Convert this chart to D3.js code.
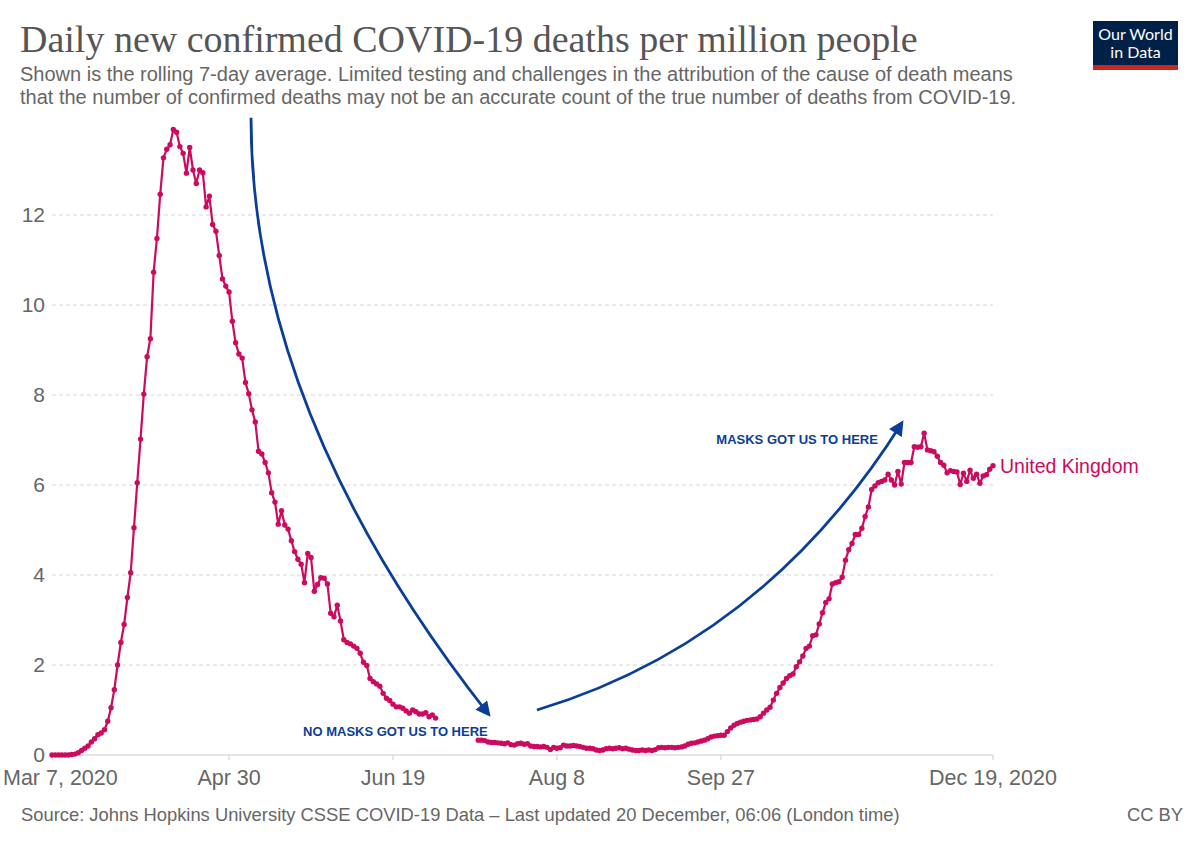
<!doctype html>
<html lang="en">
<head>
<meta charset="UTF-8">
<title>Daily new confirmed COVID-19 deaths per million people</title>
<style>
	body { margin: 0; background: #fff; }
	svg { display: block; font-family: "Liberation Sans", Arial, sans-serif; }
</style>
</head>
<body>
<script src="https://cdn.jsdelivr.net/npm/d3@7"></script>
<script>
	// data (null = hidden behind the annotation)
	var startDate = '2020-03-07',
		endDate = '2020-12-19';

	var ukDeaths = [
		0, 0, 0, 0, 0, 0, 0.01, 0.02, 0.05, 0.1,
		0.15, 0.2, 0.29, 0.36, 0.45, 0.49, 0.56, 0.75, 1.05, 1.45,
		2.0, 2.5, 2.9, 3.5, 4.05, 5.05, 6.05, 7.02, 8.02, 8.85,
		9.25, 10.73, 11.48, 12.46, 13.27, 13.46, 13.56, 13.9, 13.84, 13.52,
		13.37, 12.93, 13.5, 13.0, 12.7, 13.0, 12.94, 12.18, 12.42, 11.79,
		11.64, 11.1, 10.58, 10.42, 10.29, 9.64, 9.16, 8.91, 8.82, 8.28,
		8.03, 7.67, 7.4, 6.75, 6.69, 6.5, 6.27, 5.83, 5.62, 5.13,
		5.43, 5.11, 5.02, 4.76, 4.52, 4.35, 4.24, 3.83, 4.48, 4.39,
		3.64, 3.79, 3.94, 3.93, 3.8, 3.15, 3.07, 3.33, 2.98, 2.56,
		2.5, 2.47, 2.42, 2.37, 2.26, 2.06, 1.99, 1.7, 1.63, 1.58,
		1.53, 1.37, 1.26, 1.21, 1.13, 1.07, 1.07, 1.04, 0.98, 0.93,
		1.0, 0.96, 0.91, 0.91, 0.94, 0.85, 0.89, 0.82, null, null,
		null, null, null, null, null, null, null, null, null, null,
		0.33, 0.33, 0.32, 0.29, 0.28, 0.28, 0.27, 0.26, 0.25, 0.27,
		0.23, 0.22, 0.25, 0.26, 0.24, 0.25, 0.2, 0.19, 0.19, 0.18,
		0.19, 0.17, 0.12, 0.17, 0.15, 0.16, 0.22, 0.2, 0.2, 0.21,
		0.2, 0.19, 0.17, 0.15, 0.15, 0.14, 0.11, 0.1, 0.11, 0.14,
		0.15, 0.14, 0.15, 0.16, 0.14, 0.15, 0.13, 0.11, 0.1, 0.1,
		0.11, 0.1, 0.11, 0.1, 0.12, 0.16, 0.17, 0.16, 0.17, 0.17,
		0.16, 0.17, 0.18, 0.2, 0.24, 0.26, 0.27, 0.29, 0.31, 0.33,
		0.36, 0.4, 0.42, 0.43, 0.44, 0.44, 0.52, 0.6, 0.66, 0.7,
		0.73, 0.75, 0.77, 0.78, 0.79, 0.8, 0.85, 0.93, 1.0, 1.06,
		1.22, 1.37, 1.5, 1.6, 1.7, 1.76, 1.8, 1.96, 2.07, 2.2,
		2.37, 2.42, 2.65, 2.67, 2.91, 3.16, 3.39, 3.47, 3.8, 3.83,
		3.85, 3.95, 4.33, 4.56, 4.7, 4.9, 4.9, 5.04, 5.3, 5.51,
		5.9, 5.98, 6.05, 6.08, 6.11, 6.24, 6.11, 6.0, 6.3, 6.02,
		6.5, 6.5, 6.5, 6.85, 6.84, 6.85, 7.15, 6.78, 6.76, 6.74,
		6.64, 6.5, 6.44, 6.27, 6.32, 6.3, 6.29, 6.01, 6.26, 6.08,
		6.33, 6.15, 6.24, 6.04, 6.2, 6.23, 6.35, 6.43
	];

	var yTicks = [0, 2, 4, 6, 8, 10, 12];
	var xTickDates = ['2020-03-07', '2020-04-30', '2020-06-19', '2020-08-08', '2020-09-27', '2020-12-19'];
	var xTickLabels = ['Mar 7, 2020', 'Apr 30', 'Jun 19', 'Aug 8', 'Sep 27', 'Dec 19, 2020'];
	var seriesName = 'United Kingdom';

	var w = 1200,
		h = 847,
		lineColor = '#cc0a5e',
		arrowColor = '#0b3e96',
		textColor = '#666';

	var parse = d3.utcParse('%Y-%m-%d'),
		start = parse(startDate),
		end = parse(endDate);

	var dayToDate = function(d) {
		return new Date(start.getTime() + d * 864e5);
	};

	var data = ukDeaths.map(function(v, i) {
		return { date: dayToDate(i), v: v };
	});

	var x = d3.scaleUtc().domain([start, end]).range([52, 993]),
		y = d3.scaleLinear().domain([0, 14]).range([755, 125]);

	var svg = d3.select('body')
		.append('svg')
		.attr('width', w)
		.attr('height', h);

	var fit = function(sel, width) {
		var fs = parseFloat(sel.attr('font-size')),
			len = sel.node().getComputedTextLength();
		sel.attr('font-size', fs * width / len);
		return fs * width / len;
	};

	// header
	var title = svg.append('text')
		.attr('x', 20).attr('y', 52)
		.attr('font-family', '"Liberation Serif", "DejaVu Serif", serif')
		.attr('font-size', 34)
		.attr('fill', '#555')
		.text('Daily new confirmed COVID-19 deaths per million people');
	fit(title, 898);

	var sub2 = svg.append('text')
		.attr('x', 20).attr('y', 104)
		.attr('font-size', 18)
		.attr('fill', textColor)
		.text('that the number of confirmed deaths may not be an accurate count of the true number of deaths from COVID-19.');
	var subSize = fit(sub2, 997);

	svg.append('text')
		.attr('x', 20).attr('y', 81)
		.attr('font-size', subSize)
		.attr('fill', textColor)
		.text('Shown is the rolling 7-day average. Limited testing and challenges in the attribution of the cause of death means');

	// logo
	var logo = svg.append('g').attr('transform', 'translate(1093,21)');
	logo.append('rect').attr('width', 85).attr('height', 49).attr('fill', '#002147');
	logo.append('rect').attr('y', 44).attr('width', 85).attr('height', 5).attr('fill', '#ce261e');
	logo.selectAll('text')
		.data(['Our World', 'in Data'])
		.enter()
		.append('text')
		.attr('x', 42.5)
		.attr('y', function(d, i) { return 19 + i * 18; })
		.attr('text-anchor', 'middle')
		.attr('font-family', 'Lato, sans-serif')
		.attr('font-size', 16)
		.attr('fill', '#fff')
		.text(function(d) { return d; });

	// grid
	svg.append('g')
		.selectAll('line')
		.data(yTicks.filter(function(d) { return d > 0; }))
		.enter()
		.append('line')
		.attr('x1', x.range()[0]).attr('x2', x.range()[1])
		.attr('y1', function(d) { return y(d); })
		.attr('y2', function(d) { return y(d); })
		.attr('stroke', '#d6d6d6')
		.attr('stroke-dasharray', '4,3');

	svg.append('g')
		.selectAll('text')
		.data(yTicks)
		.enter()
		.append('text')
		.attr('x', 45)
		.attr('y', function(d) { return y(d) + 7; })
		.attr('text-anchor', 'end')
		.attr('font-size', 21)
		.attr('fill', textColor)
		.text(function(d) { return d; });

	// x axis
	svg.append('line')
		.attr('x1', x.range()[0]).attr('x2', x.range()[1])
		.attr('y1', y(0)).attr('y2', y(0))
		.attr('stroke', '#ccc');

	var xt = svg.append('g')
		.selectAll('g')
		.data(xTickDates)
		.enter()
		.append('g')
		.attr('transform', function(d) { return 'translate(' + x(parse(d)) + ',' + y(0) + ')'; });

	xt.append('line')
		.attr('y2', 5)
		.attr('stroke', '#ccc');

	xt.append('text')
		.attr('y', 30)
		.attr('text-anchor', 'middle')
		.attr('font-size', 21.5)
		.attr('fill', textColor)
		.text(function(d, i) { return xTickLabels[i]; })
		.each(function() {
			// keep the first label inside the canvas
			var b = this.getBBox(),
				p = this.parentNode.getCTM().e;
			if (p + b.x < 3) d3.select(this).attr('x', 3 - p - b.x);
		});

	// series
	var line = d3.line()
		.defined(function(d) { return d.v != null; })
		.x(function(d) { return x(d.date); })
		.y(function(d) { return y(d.v); });

	svg.append('path')
		.datum(data)
		.attr('d', line)
		.attr('fill', 'none')
		.attr('stroke', lineColor)
		.attr('stroke-width', 2.2)
		.attr('stroke-linejoin', 'round');

	svg.append('g')
		.selectAll('circle')
		.data(data.filter(function(d) { return d.v != null; }))
		.enter()
		.append('circle')
		.attr('cx', function(d) { return x(d.date); })
		.attr('cy', function(d) { return y(d.v); })
		.attr('r', 2.7)
		.attr('fill', lineColor);

	var last = data[data.length - 1];
	svg.append('text')
		.attr('x', x(last.date) + 7)
		.attr('y', y(last.v) + 7)
		.attr('font-size', 19.5)
		.attr('fill', lineColor)
		.text(seriesName);

	// annotations
	svg.append('defs')
		.append('marker')
		.attr('id', 'head')
		.attr('viewBox', '0 0 10 10')
		.attr('refX', 8).attr('refY', 5)
		.attr('markerUnits', 'userSpaceOnUse')
		.attr('markerWidth', 17).attr('markerHeight', 15)
		.attr('orient', 'auto')
		.append('path')
		.attr('d', 'M0,0L10,5L0,10z')
		.attr('fill', arrowColor);

	var pt = function(day, v) {
		return x(dayToDate(day)) + ',' + y(v);
	};

	svg.append('path')
		.attr('d', 'M' + pt(60.7, 14.16) + 'Q' + pt(60.7, 7.6) + ' ' + pt(133.2, 0.9))
		.attr('fill', 'none')
		.attr('stroke', arrowColor)
		.attr('stroke-width', 2.8)
		.attr('marker-end', 'url(#head)');

	svg.append('path')
		.attr('d', 'M' + pt(147.9, 1.0) + 'Q' + pt(217.1, 2.51) + ' ' + pt(259.2, 7.38))
		.attr('fill', 'none')
		.attr('stroke', arrowColor)
		.attr('stroke-width', 2.8)
		.attr('marker-end', 'url(#head)');

	svg.append('text')
		.attr('x', x(dayToDate(132.9)))
		.attr('y', y(0.42))
		.attr('text-anchor', 'end')
		.attr('font-size', 13)
		.attr('font-weight', 'bold')
		.attr('fill', arrowColor)
		.text('NO MASKS GOT US TO HERE');

	svg.append('text')
		.attr('x', x(dayToDate(251.9)))
		.attr('y', y(6.91))
		.attr('text-anchor', 'end')
		.attr('font-size', 13)
		.attr('font-weight', 'bold')
		.attr('fill', arrowColor)
		.text('MASKS GOT US TO HERE');

	// footer
	var src = svg.append('text')
		.attr('x', 21).attr('y', 821)
		.attr('font-size', 16)
		.attr('fill', textColor)
		.text('Source: Johns Hopkins University CSSE COVID-19 Data \u2013 Last updated 20 December, 06:06 (London time)');
	var srcSize = fit(src, 879);

	svg.append('text')
		.attr('x', 1183).attr('y', 821)
		.attr('text-anchor', 'end')
		.attr('font-size', srcSize)
		.attr('fill', textColor)
		.text('CC BY');
</script>
</body>
</html>
